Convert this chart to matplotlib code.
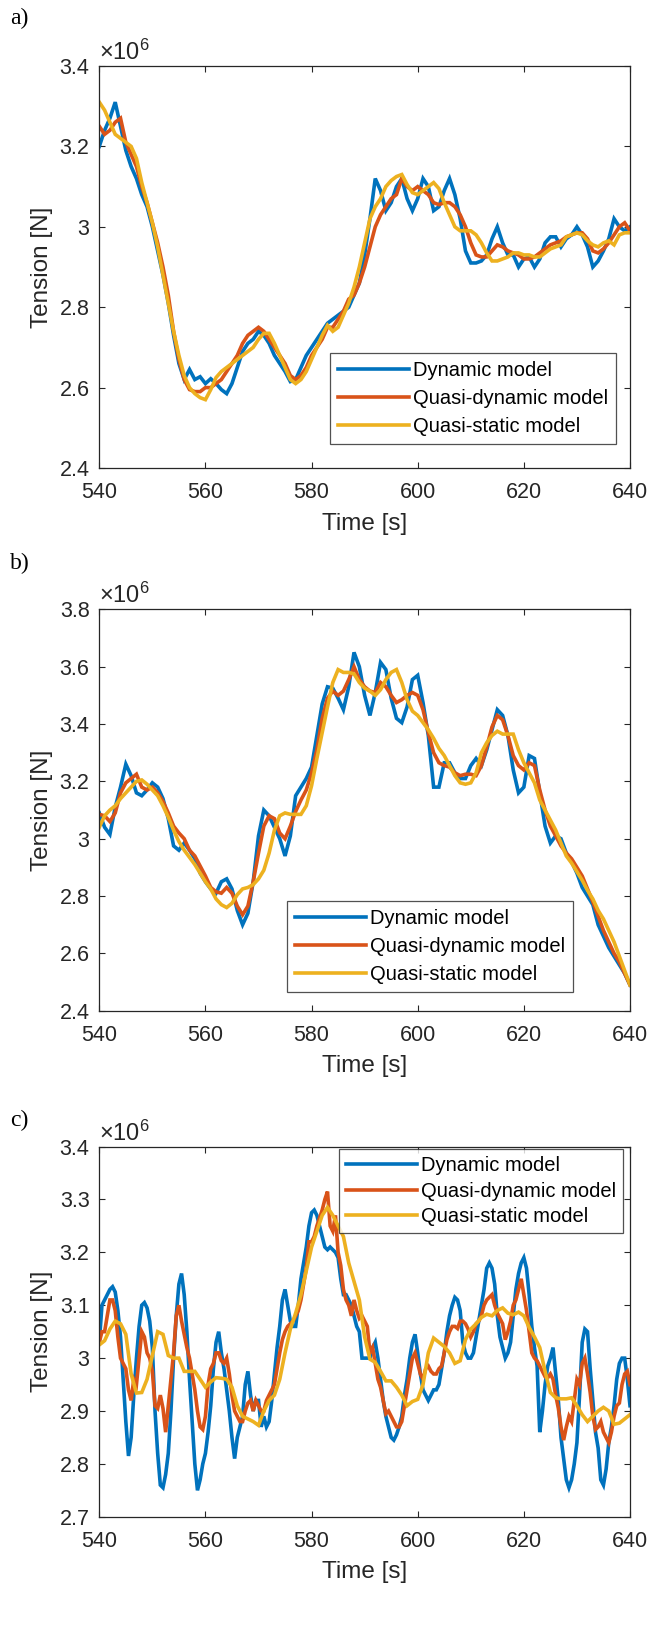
import numpy as np
import matplotlib
matplotlib.use('Agg')
import matplotlib.pyplot as plt
from matplotlib.ticker import FuncFormatter

plt.rcParams['font.family'] = ['Liberation Sans', 'DejaVu Sans']
plt.rcParams['mathtext.fontset'] = 'custom'
plt.rcParams['mathtext.rm'] = 'Liberation Sans'
plt.rcParams['mathtext.it'] = 'Liberation Sans:italic'
plt.rcParams['mathtext.bf'] = 'Liberation Sans:bold'

# ---------------- data (tension in units of 1e6 N) ----------------
time_1s = np.arange(540, 641, 1.0)
time_half = np.arange(540, 640.5, 0.5)

labels = ['Dynamic model', 'Quasi-dynamic model', 'Quasi-static model']

a_dynamic = [3.20, 3.24, 3.27, 3.31, 3.25, 3.19, 3.15, 3.12, 3.08, 3.05,
             3.00, 2.94, 2.88, 2.81, 2.73, 2.66, 2.62, 2.645, 2.62, 2.627,
             2.61, 2.622, 2.61, 2.595, 2.585, 2.61, 2.65, 2.69, 2.71, 2.72,
             2.74, 2.73, 2.71, 2.68, 2.66, 2.64, 2.615, 2.62, 2.65, 2.68,
             2.70, 2.72, 2.74, 2.76, 2.77, 2.78, 2.79, 2.80, 2.83, 2.86,
             2.93, 3.02, 3.12, 3.09, 3.04, 3.06, 3.10, 3.12, 3.07, 3.04,
             3.07, 3.12, 3.10, 3.04, 3.05, 3.09, 3.12, 3.08, 3.02, 2.94,
             2.91, 2.91, 2.915, 2.93, 2.97, 3.00, 2.96, 2.93, 2.93, 2.90,
             2.92, 2.925, 2.90, 2.92, 2.96, 2.975, 2.975, 2.95, 2.97, 2.98,
             3.00, 2.98, 2.95, 2.90, 2.915, 2.94, 2.97, 3.02, 3.00, 2.99, 3.00]
a_quasi_dynamic = [3.25, 3.23, 3.24, 3.26, 3.27, 3.21, 3.18, 3.15, 3.10, 3.06,
                   3.01, 2.96, 2.90, 2.83, 2.74, 2.67, 2.62, 2.595, 2.59, 2.59,
                   2.60, 2.60, 2.61, 2.62, 2.64, 2.66, 2.68, 2.71, 2.73, 2.74,
                   2.75, 2.74, 2.72, 2.70, 2.68, 2.66, 2.63, 2.62, 2.63, 2.65,
                   2.68, 2.70, 2.72, 2.75, 2.75, 2.77, 2.79, 2.82, 2.83, 2.86,
                   2.90, 2.95, 3.00, 3.03, 3.05, 3.07, 3.08, 3.12, 3.10, 3.09,
                   3.10, 3.09, 3.08, 3.06, 3.055, 3.06, 3.06, 3.05, 3.03, 3.00,
                   2.96, 2.93, 2.925, 2.925, 2.94, 2.955, 2.95, 2.94, 2.935, 2.93,
                   2.92, 2.92, 2.925, 2.935, 2.945, 2.955, 2.96, 2.965, 2.975, 2.98,
                   2.985, 2.985, 2.97, 2.94, 2.935, 2.945, 2.96, 2.98, 3.00, 3.01, 2.99]
a_quasi_static = [3.31, 3.29, 3.26, 3.23, 3.22, 3.21, 3.20, 3.17, 3.11, 3.06,
                  3.01, 2.95, 2.88, 2.81, 2.74, 2.68, 2.63, 2.60, 2.585, 2.575,
                  2.57, 2.595, 2.625, 2.64, 2.65, 2.66, 2.67, 2.68, 2.69, 2.70,
                  2.72, 2.735, 2.735, 2.71, 2.68, 2.65, 2.62, 2.61, 2.62, 2.64,
                  2.67, 2.70, 2.73, 2.755, 2.74, 2.75, 2.78, 2.81, 2.85, 2.90,
                  2.96, 3.02, 3.05, 3.07, 3.10, 3.115, 3.125, 3.13, 3.105, 3.085,
                  3.08, 3.09, 3.10, 3.11, 3.095, 3.06, 3.03, 3.00, 2.99, 2.99,
                  2.99, 2.98, 2.96, 2.935, 2.915, 2.915, 2.92, 2.925, 2.935, 2.935,
                  2.93, 2.93, 2.925, 2.925, 2.935, 2.945, 2.95, 2.955, 2.975, 2.98,
                  2.985, 2.98, 2.965, 2.955, 2.95, 2.96, 2.965, 2.955, 2.98, 2.985, 2.985]

b_dynamic = [3.09, 3.04, 3.015, 3.11, 3.18, 3.26, 3.22, 3.16, 3.15, 3.17,
             3.195, 3.18, 3.14, 3.07, 2.975, 2.96, 2.985, 2.96, 2.93, 2.88,
             2.85, 2.825, 2.81, 2.85, 2.86, 2.825, 2.75, 2.70, 2.74, 2.85,
             3.01, 3.10, 3.08, 3.04, 3.00, 2.94, 3.01, 3.15, 3.18, 3.21,
             3.25, 3.36, 3.47, 3.53, 3.525, 3.49, 3.45, 3.53, 3.65, 3.60,
             3.50, 3.43, 3.51, 3.615, 3.59, 3.49, 3.42, 3.405, 3.46, 3.555,
             3.57, 3.475, 3.36, 3.18, 3.18, 3.265, 3.265, 3.23, 3.21, 3.21,
             3.255, 3.28, 3.255, 3.31, 3.38, 3.45, 3.43, 3.36, 3.24, 3.16,
             3.18, 3.29, 3.28, 3.16, 3.044, 2.985, 3.01, 3.00, 2.95, 2.92,
             2.88, 2.83, 2.80, 2.77, 2.70, 2.66, 2.62, 2.59, 2.56, 2.53, 2.49]
b_quasi_dynamic = [3.085, 3.08, 3.06, 3.09, 3.16, 3.195, 3.21, 3.225, 3.18, 3.17,
                   3.18, 3.16, 3.13, 3.09, 3.044, 3.02, 3.00, 2.96, 2.94, 2.905,
                   2.87, 2.83, 2.815, 2.81, 2.83, 2.81, 2.765, 2.735, 2.765, 2.85,
                   2.95, 3.044, 3.08, 3.07, 3.02, 3.00, 3.044, 3.095, 3.135, 3.17,
                   3.23, 3.31, 3.42, 3.49, 3.515, 3.50, 3.515, 3.555, 3.60, 3.555,
                   3.53, 3.515, 3.51, 3.545, 3.53, 3.50, 3.475, 3.485, 3.50, 3.51,
                   3.50, 3.45, 3.37, 3.30, 3.265, 3.255, 3.25, 3.23, 3.22, 3.225,
                   3.225, 3.22, 3.255, 3.32, 3.39, 3.43, 3.415, 3.36, 3.29, 3.255,
                   3.24, 3.265, 3.255, 3.17, 3.10, 3.044, 3.01, 2.975, 2.95, 2.93,
                   2.90, 2.87, 2.825, 2.78, 2.73, 2.68, 2.64, 2.60, 2.57, 2.53, 2.49]
b_quasi_static = [3.04, 3.08, 3.10, 3.115, 3.14, 3.16, 3.18, 3.20, 3.205, 3.19,
                  3.17, 3.15, 3.115, 3.075, 3.03, 2.99, 2.96, 2.935, 2.91, 2.88,
                  2.85, 2.825, 2.79, 2.77, 2.76, 2.775, 2.805, 2.825, 2.83, 2.84,
                  2.86, 2.89, 2.95, 3.03, 3.08, 3.09, 3.085, 3.085, 3.085, 3.115,
                  3.185, 3.28, 3.37, 3.46, 3.545, 3.59, 3.58, 3.58, 3.575, 3.545,
                  3.525, 3.515, 3.50, 3.52, 3.555, 3.58, 3.59, 3.545, 3.485, 3.445,
                  3.43, 3.405, 3.38, 3.35, 3.315, 3.29, 3.255, 3.22, 3.195, 3.19,
                  3.195, 3.23, 3.30, 3.335, 3.36, 3.375, 3.365, 3.365, 3.365, 3.31,
                  3.265, 3.23, 3.195, 3.135, 3.10, 3.065, 3.03, 2.985, 2.94, 2.915,
                  2.885, 2.855, 2.82, 2.79, 2.75, 2.72, 2.68, 2.64, 2.59, 2.54, 2.49]

c_dynamic = [3.03, 3.10, 3.11, 3.12, 3.13, 3.135, 3.125, 3.09, 3.04, 2.96,
             2.88, 2.815, 2.85, 2.93, 3.00, 3.06, 3.10, 3.105, 3.095, 3.07,
             3.02, 2.90, 2.82, 2.76, 2.755, 2.78, 2.82, 2.90, 3.00, 3.08,
             3.14, 3.16, 3.12, 3.05, 2.96, 2.88, 2.80, 2.75, 2.77, 2.80,
             2.82, 2.86, 2.91, 2.98, 3.03, 3.05, 3.01, 2.98, 2.94, 2.90,
             2.85, 2.81, 2.85, 2.87, 2.89, 2.95, 2.975, 2.93, 2.90, 2.92,
             2.92, 2.87, 2.89, 2.87, 2.88, 2.92, 2.97, 3.02, 3.06, 3.11,
             3.13, 3.10, 3.07, 3.06, 3.06, 3.10, 3.15, 3.18, 3.21, 3.25,
             3.275, 3.28, 3.27, 3.25, 3.23, 3.21, 3.205, 3.21, 3.205, 3.20,
             3.19, 3.15, 3.12, 3.12, 3.11, 3.10, 3.08, 3.06, 3.05, 3.00,
             3.00, 3.00, 3.00, 3.02, 3.03, 3.00, 2.96, 2.92, 2.89, 2.87,
             2.85, 2.845, 2.855, 2.87, 2.89, 2.93, 2.96, 3.00, 3.03, 3.045,
             3.01, 2.97, 2.94, 2.93, 2.92, 2.93, 2.94, 2.94, 2.95, 2.98,
             3.01, 3.05, 3.08, 3.10, 3.115, 3.11, 3.09, 3.03, 3.01, 3.00,
             3.00, 3.01, 3.04, 3.07, 3.10, 3.13, 3.17, 3.18, 3.17, 3.14,
             3.08, 3.04, 3.02, 3.00, 3.01, 3.03, 3.08, 3.13, 3.16, 3.18,
             3.19, 3.17, 3.12, 3.06, 3.02, 2.985, 2.86, 2.90, 2.95, 2.985,
             3.00, 3.02, 2.97, 2.92, 2.85, 2.81, 2.77, 2.755, 2.77, 2.80,
             2.84, 2.93, 3.03, 3.055, 3.05, 2.98, 2.92, 2.86, 2.83, 2.77,
             2.76, 2.79, 2.84, 2.87, 2.91, 2.96, 2.99, 3.00, 3.00, 2.96, 2.91]
c_quasi_dynamic = [3.03, 3.05, 3.05, 3.08, 3.11, 3.11, 3.09, 3.04, 3.00, 2.99,
                   2.98, 2.94, 2.92, 2.96, 2.95, 3.00, 3.05, 3.04, 3.01, 3.00,
                   2.975, 2.91, 2.905, 2.93, 2.905, 2.86, 2.91, 2.96, 3.01, 3.08,
                   3.10, 3.07, 3.045, 3.02, 3.00, 2.97, 2.94, 2.90, 2.87, 2.865,
                   2.89, 2.95, 2.98, 2.99, 3.01, 3.01, 2.995, 2.99, 3.00, 2.97,
                   2.93, 2.90, 2.89, 2.88, 2.88, 2.90, 2.915, 2.92, 2.90, 2.92,
                   2.91, 2.90, 2.90, 2.92, 2.93, 2.94, 2.95, 2.98, 3.01, 3.035,
                   3.05, 3.06, 3.065, 3.07, 3.08, 3.09, 3.11, 3.14, 3.17, 3.22,
                   3.22, 3.23, 3.25, 3.265, 3.28, 3.30, 3.315, 3.25, 3.24, 3.27,
                   3.20, 3.175, 3.13, 3.11, 3.10, 3.08, 3.11, 3.09, 3.075, 3.08,
                   3.07, 3.06, 3.01, 3.02, 2.99, 2.96, 2.945, 2.92, 2.895, 2.90,
                   2.89, 2.88, 2.87, 2.87, 2.88, 2.91, 2.94, 2.97, 3.00, 3.01,
                   2.99, 2.97, 2.96, 2.98, 2.985, 2.975, 2.97, 2.97, 2.98, 2.985,
                   3.01, 3.035, 3.05, 3.06, 3.06, 3.056, 3.07, 3.07, 3.065, 3.055,
                   3.04, 3.05, 3.065, 3.07, 3.08, 3.10, 3.11, 3.115, 3.12, 3.10,
                   3.085, 3.075, 3.065, 3.035, 3.05, 3.07, 3.10, 3.11, 3.13, 3.15,
                   3.12, 3.09, 3.05, 3.01, 3.00, 2.995, 2.985, 2.975, 2.965, 2.963,
                   2.97, 2.96, 2.93, 2.905, 2.87, 2.845, 2.87, 2.89, 2.88, 2.92,
                   2.96, 2.95, 2.99, 3.00, 2.97, 2.935, 2.89, 2.865, 2.87, 2.88,
                   2.86, 2.85, 2.84, 2.86, 2.89, 2.91, 2.915, 2.95, 2.97, 2.975, 2.95]
c_quasi_static = [3.025, 3.033, 3.055, 3.07, 3.065, 3.045, 2.97, 2.934, 2.935, 2.96,
                  3.005, 3.05, 3.045, 3.005, 3.00, 3.00, 2.975, 2.975, 2.975, 2.96,
                  2.945, 2.955, 2.963, 2.962, 2.96, 2.945, 2.91, 2.89, 2.885, 2.88,
                  2.873, 2.90, 2.92, 2.93, 2.96, 3.01, 3.055, 3.085, 3.12, 3.165,
                  3.21, 3.24, 3.27, 3.285, 3.27, 3.25, 3.23, 3.18, 3.145, 3.11,
                  3.04, 2.998, 2.992, 2.975, 2.957, 2.957, 2.945, 2.93, 2.91, 2.918,
                  2.922, 2.95, 3.01, 3.038, 3.03, 3.022, 3.01, 2.99, 2.995, 3.035,
                  3.055, 3.065, 3.077, 3.083, 3.08, 3.09, 3.095, 3.085, 3.082, 3.087,
                  3.08, 3.058, 3.04, 3.02, 2.975, 2.935, 2.925, 2.923, 2.923, 2.925,
                  2.91, 2.893, 2.88, 2.89, 2.90, 2.907, 2.90, 2.875, 2.877, 2.885, 2.893]

x_ticks = [540, 560, 580, 600, 620, 640]
a_yticks = [2.4, 2.6, 2.8, 3.0, 3.2, 3.4]
b_yticks = [2.4, 2.6, 2.8, 3.0, 3.2, 3.4, 3.6, 3.8]
c_yticks = [2.7, 2.8, 2.9, 3.0, 3.1, 3.2, 3.3, 3.4]

# ---------------- style ----------------
colors = ['#0072BD', '#D95319', '#EDB120']
dark = '#262626'
W, H = 649, 1625
fig = plt.figure(figsize=(W / 100, H / 100), dpi=100)


def fmt(v, _):
    return f'{round(v, 4):g}'


def make_panel(rect, series, times, yticks, legend_kw, tag, tag_y):
    ax = fig.add_axes(rect)
    for s, t, c, lab in zip(series, times, colors, labels):
        ax.plot(t, s, color=c, lw=2.6, label=lab, solid_joinstyle='miter')
    ax.set_xlim(540, 640)
    ax.set_ylim(yticks[0], yticks[-1])
    ax.set_xticks(x_ticks)
    ax.set_yticks(yticks)
    ax.yaxis.set_major_formatter(FuncFormatter(fmt))
    ax.tick_params(direction='in', top=True, right=True, length=4.5, width=0.8,
                   colors=dark, labelsize=15.5)
    ax.tick_params(axis='x', pad=10)
    ax.tick_params(axis='y', pad=7)
    for sp in ax.spines.values():
        sp.set_color(dark)
        sp.set_linewidth(0.9)
    ax.set_xlabel('Time [s]', fontsize=17.5, color=dark, labelpad=7)
    ax.set_ylabel('Tension [N]', fontsize=17.5, color=dark, labelpad=5)
    ax.text(0.0, 1.003, r'$\times10^{6}$', transform=ax.transAxes, fontsize=17,
            color=dark, ha='left', va='bottom')
    leg = ax.legend(fontsize=14.5, frameon=True, fancybox=False, edgecolor=dark,
                    handlelength=3.5, handletextpad=0.22, borderaxespad=0.0,
                    **legend_kw)
    leg.get_frame().set_linewidth(0.9)
    for txt in leg.get_texts():
        txt.set_color('black')
    fig.text(10 / W, 1 - tag_y / H, tag, fontsize=17, family='Liberation Serif',
             ha='left', va='center', color='black')
    return ax


make_panel([0.153, 0.712, 0.8177, 0.2474],
           [a_dynamic, a_quasi_dynamic, a_quasi_static], [time_1s] * 3, a_yticks,
           dict(loc='lower left', bbox_to_anchor=(0.4347, 0.06), labelspacing=0.45,
                borderpad=0.4), 'a)', 18)
make_panel([0.153, 0.378, 0.8177, 0.247],
           [b_dynamic, b_quasi_dynamic, b_quasi_static], [time_1s] * 3, b_yticks,
           dict(loc='lower left', bbox_to_anchor=(0.3537, 0.047), labelspacing=0.45,
                borderpad=0.4), 'b)', 563)
make_panel([0.153, 0.0666, 0.8177, 0.2278],
           [c_dynamic, c_quasi_dynamic, c_quasi_static], [time_half, time_half, time_1s],
           c_yticks,
           dict(loc='upper left', bbox_to_anchor=(0.4517, 0.9935), labelspacing=0.33,
                borderpad=0.35), 'c)', 1120)

fig.savefig('out.png', dpi=100)
